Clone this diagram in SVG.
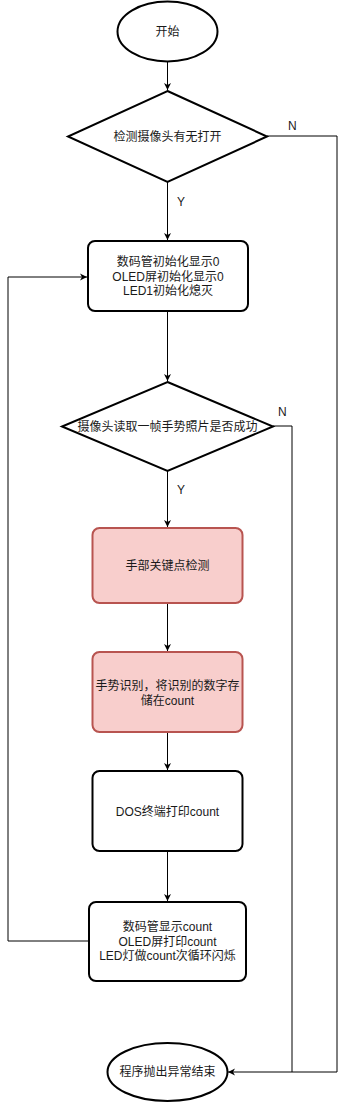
<svg xmlns="http://www.w3.org/2000/svg" width="347" height="1103" viewBox="0 0 347 1103">
<defs>
<marker id="arr" markerWidth="8" markerHeight="8" refX="7" refY="4" orient="auto" markerUnits="userSpaceOnUse">
<path d="M0,0.5 L7,4 L0,7.5 L2,4 Z" fill="#000"/>
</marker>
<style>
.s{fill:#fff;stroke:#000;stroke-width:2}
.p{fill:#f8cecc;stroke:#b85450;stroke-width:2}
.c{fill:none;stroke:#000;stroke-width:1}
text{font-family:"Liberation Sans","Noto Sans CJK SC",sans-serif;font-size:12px;fill:#1a1a1a;text-anchor:middle}
.l{text-anchor:start}
</style>
</defs>
<rect width="347" height="1103" fill="#fff"/>
<g id="connectors">
<path class="c" d="M167.5,62 V90" marker-end="url(#arr)"/>
<path class="c" d="M167.5,182 V240" marker-end="url(#arr)"/>
<path class="c" d="M267,136 H337 V1072 H228" marker-end="url(#arr)"/>
<path class="c" d="M167.5,311 V381" marker-end="url(#arr)"/>
<path class="c" d="M273,426 H292 V1072"/>
<path class="c" d="M167.5,471 V527" marker-end="url(#arr)"/>
<path class="c" d="M167.5,603 V651" marker-end="url(#arr)"/>
<path class="c" d="M167.5,732 V770" marker-end="url(#arr)"/>
<path class="c" d="M167.5,851 V901" marker-end="url(#arr)"/>
<path class="c" d="M89,941 H8 V277 H87" marker-end="url(#arr)"/>
<text class="l" x="288" y="130">N</text>
<text class="l" x="177" y="206">Y</text>
<text class="l" x="278" y="416">N</text>
<text class="l" x="177" y="494">Y</text>
</g>
<g id="start">
<ellipse class="s" cx="167.5" cy="31.5" rx="50" ry="30"/>
<text x="167.5" y="35.5">开始</text>
</g>
<g id="check-camera">
<polygon class="s" points="167.5,91 267,136.5 167.5,182 68,136.5"/>
<text x="167.5" y="140.5">检测摄像头有无打开</text>
</g>
<g id="init">
<rect class="s" x="88" y="241" width="160" height="70" rx="7"/>
<text x="168" y="266">数码管初始化显示0</text>
<text x="168" y="280.5">OLED屏初始化显示0</text>
<text x="168" y="295">LED1初始化熄灭</text>
</g>
<g id="read-frame">
<polygon class="s" points="167.5,382 273,426.5 167.5,471 62,426.5"/>
<text x="167.5" y="430.5">摄像头读取一帧手势照片是否成功</text>
</g>
<g id="keypoints">
<rect class="p" x="92.5" y="528" width="150" height="75" rx="7"/>
<text x="167.5" y="570">手部关键点检测</text>
</g>
<g id="recognize">
<rect class="p" x="92.5" y="652" width="150" height="80" rx="7"/>
<text x="167.5" y="690">手势识别，将识别的数字存</text>
<text x="167.5" y="704.5">储在count</text>
</g>
<g id="dos-print">
<rect class="s" x="92.5" y="771" width="150" height="80" rx="7"/>
<text x="167.5" y="816">DOS终端打印count</text>
</g>
<g id="display">
<rect class="s" x="89" y="902" width="157" height="79" rx="7"/>
<text x="167.5" y="931">数码管显示count</text>
<text x="167.5" y="945.5">OLED屏打印count</text>
<text x="167.5" y="960">LED灯做count次循环闪烁</text>
</g>
<g id="end">
<ellipse class="s" cx="167.5" cy="1072" rx="60" ry="29"/>
<text x="167.5" y="1076">程序抛出异常结束</text>
</g>
</svg>
